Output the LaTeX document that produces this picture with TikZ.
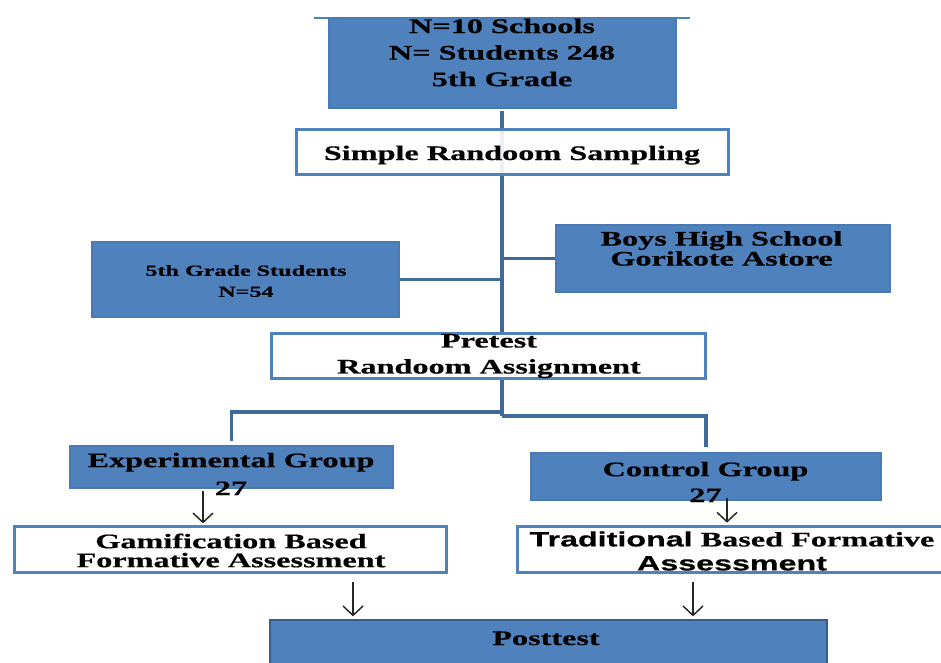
\documentclass[tikz,border=0pt]{standalone}
\usepackage{fontspec}
\setmainfont{Liberation Serif}[FakeStretch=1.56, BoldFeatures={FakeBold=0.5}]
\newfontfamily\sansb{Liberation Sans}[FakeStretch=1.56, BoldFeatures={FakeBold=0.5}]
\usetikzlibrary{arrows.meta,backgrounds}
\definecolor{boxblue}{HTML}{4F81BD}
\definecolor{boxedge}{HTML}{4A7AB4}
\definecolor{linkblue}{HTML}{3F6B9B}
\definecolor{postedge}{HTML}{385D8A}
\tikzset{
  bluebox/.style={draw=boxedge, fill=boxblue, line width=0.8pt, inner sep=0pt},
  whitebox/.style={draw=boxblue, fill=white, line width=2.2pt, inner sep=0pt},
  lbl/.style={font=\fontsize{15.5}{20}\selectfont\bfseries, align=center, inner sep=0pt, text=black},
  trunk/.style={draw=linkblue, line width=3pt},
  link/.style={draw=linkblue, line width=2.3pt},
  arr/.style={-{Straight Barb[length=7pt,width=15pt]}, line width=1.1pt, draw=black!85},
}
\begin{document}
\begin{tikzpicture}[x=0.75pt,y=-0.75pt]
\useasboundingbox (0,0) rectangle (941,662);
% boxes
\draw[boxblue, line width=1pt] (314,18) -- (690,18);
\node[bluebox, minimum width=260.25pt, minimum height=67.5pt] (top) at (502.5,63) {};
\node[whitebox, fill opacity=0.9, minimum width=324pt, minimum height=34pt] (simple) at (512.5,152) {};
\node[bluebox, minimum width=230.25pt, minimum height=56.25pt] (fifth) at (245.5,279.5) {};
\node[bluebox, minimum width=250.5pt, minimum height=50.25pt] (boys) at (723,258.5) {};
\node[whitebox, minimum width=325.5pt, minimum height=34pt] (pretest) at (488.5,356) {};
\node[bluebox, minimum width=242.25pt, minimum height=31.5pt] (exp) at (231.5,467) {};
\node[bluebox, minimum width=262.5pt, minimum height=35.25pt] (ctrl) at (706,476.5) {};
\node[whitebox, minimum width=324pt, minimum height=35pt] (gam) at (230.5,549.5) {};
\node[whitebox, minimum width=330pt, minimum height=35pt] (trad) at (737.5,549.5) {};
\node[draw=postedge, fill=boxblue, line width=1.5pt, inner sep=0pt, minimum width=417.75pt, minimum height=60pt] (post) at (548.5,660) {};
% texts
\node[lbl, font=\fontsize{15.5}{19.9}\selectfont\bfseries] (topt) at (502,52.5) {N=10 Schools\\N= Students 248\\5th Grade};
\node[lbl, anchor=base] (simplet) at (512,160) {Simple Randoom Sampling};
\node[lbl, font=\fontsize{11.6}{15.75}\selectfont\bfseries] (fiftht) at (246,281) {5th Grade Students\\N=54};
\node[lbl, font=\fontsize{15.5}{15}\selectfont\bfseries] (boyst) at (721.5,248.5) {Boys High School\\Gorikote Astore};
\node[lbl, font=\fontsize{15.5}{19.5}\selectfont\bfseries] (pretestt) at (489,356) {Pretest\\Randoom Assignment};
\node[lbl, font=\fontsize{15.5}{21}\selectfont\bfseries] (expt) at (231,474) {Experimental Group\\27};
\node[lbl, font=\fontsize{15.5}{19.5}\selectfont\bfseries] (ctrlt) at (705.5,482) {Control Group\\27};
\node[lbl, font=\fontsize{15.5}{14.25}\selectfont\bfseries] (gamt) at (231,550.5) {Gamification Based\\Formative Assessment};
\node[lbl, font=\fontsize{15.5}{18}\selectfont\bfseries] (tradt) at (732,551) {{\sansb Traditional} Based Formative\\{\sansb Assessment}};
\node[lbl, anchor=base] (postt) at (546,645) {Posttest};
% connectors
\coordinate (tx) at (502,0);
\coordinate (j1) at (502,412);
\coordinate (j2) at (502,416);
\coordinate (a1) at (203,0);
\coordinate (a2) at (727,0);
\coordinate (a3) at (353,0);
\coordinate (a4) at (693,0);
\begin{scope}[on background layer]
\draw[trunk, shorten <=1.5pt] (top.south -| tx) -- (pretest.north -| tx);
\end{scope}
\draw[link] (fifth.east) -- (fifth.east -| tx);
\draw[link] (boys.west -| tx) -- (boys.west);
\draw[trunk] (pretest.south -| tx) -- (j2);
\draw[link, shorten >=3pt] (j1) -| (exp.north);
\draw[link, shorten >=4pt] (j2) -| (ctrl.north);
\draw[arr, shorten <=1.5pt, shorten >=1pt] (exp.south -| a1) -- (gam.north -| a1);
\draw[arr, shorten <=-2pt, shorten >=1.5pt] (ctrl.south -| a2) -- (trad.north -| a2);
\draw[arr, shorten <=6pt, shorten >=2pt] (gam.south -| a3) -- (post.north -| a3);
\draw[arr, shorten <=6pt, shorten >=2pt] (trad.south -| a4) -- (post.north -| a4);
\end{tikzpicture}
\end{document}
